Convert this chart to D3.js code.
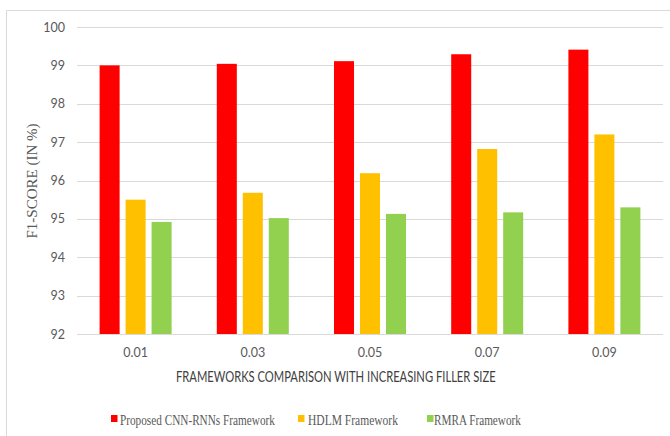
<!DOCTYPE html>
<html>
<head>
<meta charset="utf-8">
<script src="https://cdn.jsdelivr.net/npm/d3@7/dist/d3.min.js"></script>
<style>
  html, body { margin: 0; padding: 0; background: #fff; }
  svg { display: block; }
  .serif { font-family: "Liberation Serif", "DejaVu Serif", serif; }
  .sans { font-family: Lato, "Open Sans", sans-serif; }
</style>
</head>
<body>
<svg id="chart" width="670" height="436"></svg>
<script>
// Filler sizes on the x axis
const categories = ["0.01", "0.03", "0.05", "0.07", "0.09"];
// Series names and F1-scores (%)
const seriesNames = ["Proposed CNN-RNNs Framework", "HDLM Framework", "RMRA Framework"];
const cnnRnn = [99.0, 99.04, 99.11, 99.29, 99.41];
const hdlm = [95.5, 95.68, 96.19, 96.82, 97.2];
const rmra = [94.92, 95.02, 95.13, 95.17, 95.3];
const yTicks = [92, 93, 94, 95, 96, 97, 98, 99, 100];
const colors = ["#ff0000", "#ffc000", "#92d050"];

const seriesValues = [cnnRnn, hdlm, rmra];
const svg = d3.select("#chart");

// Squeeze a text horizontally so it spans the given width
function fitWidth(sel, x, y, width, anchor) {
  sel.each(function () {
    const len = this.getComputedTextLength();
    const k = width / len;
    const x0 = anchor === "middle" ? x - width / 2 : x;
    d3.select(this)
      .attr("x", 0).attr("y", 0)
      .attr("text-anchor", "start")
      .attr("transform", `translate(${x0},${y}) scale(${k},1)`);
  });
}

// Chart frame
svg.append("path")
  .attr("d", "M6.5,436 V10.5 H670")
  .attr("fill", "none")
  .attr("stroke", "#d9d9d9")
  .attr("stroke-width", 1);

const plot = { left: 77, right: 663, top: 27, bottom: 334 };

const y = d3.scaleLinear().domain([92, 100]).range([plot.bottom, plot.top]);
const x0 = d3.scaleBand().domain(categories).range([plot.left, plot.right]);
const groupWidth = 72;
const x1 = d3.scaleBand().domain(d3.range(seriesNames.length))
  .range([0, groupWidth]).paddingInner(0.23);
const groupOffset = (x0.bandwidth() - groupWidth) / 2;

// Horizontal gridlines
svg.append("g")
  .selectAll("line")
  .data(yTicks)
  .join("line")
  .attr("x1", plot.left)
  .attr("x2", plot.right)
  .attr("y1", d => Math.round(y(d)) + 0.5)
  .attr("y2", d => Math.round(y(d)) + 0.5)
  .attr("stroke", "#d9d9d9")
  .attr("stroke-width", 1);

// Y axis tick labels
const yAxis = d3.axisLeft(y).tickValues(yTicks).tickSize(0).tickPadding(0);
svg.append("g")
  .attr("transform", `translate(${plot.left - 12},0)`)
  .call(yAxis)
  .call(g => g.select(".domain").remove())
  .call(g => g.selectAll("text")
    .attr("class", "sans")
    .attr("fill", "#595959")
    .attr("font-size", 12.5));

// Bars
const groups = svg.append("g")
  .selectAll("g")
  .data(categories)
  .join("g")
  .attr("transform", c => `translate(${x0(c) + groupOffset},0)`);

groups.selectAll("rect")
  .data((c, i) => seriesValues.map((vals, s) => ({ s, v: vals[i] })))
  .join("rect")
  .attr("x", d => x1(d.s))
  .attr("width", x1.bandwidth())
  .attr("y", d => y(d.v))
  .attr("height", d => y(92) - y(d.v))
  .attr("fill", d => colors[d.s]);

// X axis tick labels
const xAxis = d3.axisBottom(x0).tickSize(0).tickPadding(0);
svg.append("g")
  .attr("transform", `translate(0,${plot.bottom + 14})`)
  .call(xAxis)
  .call(g => g.select(".domain").remove())
  .call(g => g.selectAll("text")
    .attr("class", "sans")
    .attr("fill", "#595959")
    .attr("font-size", 12.5));

// Axis titles
svg.append("text")
  .attr("class", "sans")
  .attr("fill", "#404040")
  .attr("font-size", 15)
  .text("FRAMEWORKS COMPARISON WITH INCREASING FILLER SIZE")
  .call(fitWidth, 336, 382, 320, "middle");

svg.append("text")
  .attr("class", "serif")
  .attr("transform", "translate(37,181) rotate(-90)")
  .attr("text-anchor", "middle")
  .attr("fill", "#595959")
  .attr("font-size", 15)
  .text("F1-SCORE (IN %)");

// Legend
const legendX = [111, 298, 427];
const legendTextX = [120, 308, 434];
const legendWidths = [155, 90, 87];
const legend = svg.append("g")
  .selectAll("g")
  .data(seriesNames)
  .join("g");

legend.append("rect")
  .attr("x", (d, i) => legendX[i])
  .attr("y", 415)
  .attr("width", 6.5)
  .attr("height", 7)
  .attr("fill", (d, i) => colors[i]);

legend.append("text")
  .attr("class", "serif")
  .attr("fill", "#595959")
  .attr("font-size", 15.5)
  .text(d => d)
  .each(function (d, i) {
    d3.select(this).call(fitWidth, legendTextX[i], 425, legendWidths[i], "start");
  });
</script>
</body>
</html>
